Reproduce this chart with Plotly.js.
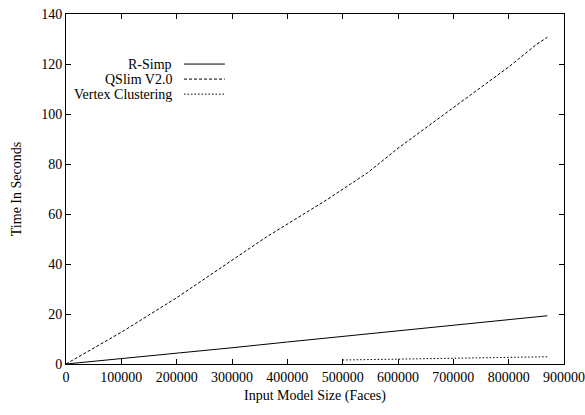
<!DOCTYPE html>
<html>
<head>
<meta charset="utf-8">
<script src="https://cdn.plot.ly/plotly-3.0.1.min.js"></script>
<style>html,body{margin:0;padding:0;background:#fff;}#chart{width:585px;height:415px;}</style>
</head>
<body>
<div id="chart"></div>
<script>
// Data
const rsimpX = [0, 100000, 200000, 300000, 400000, 500000, 600000, 700000, 800000, 870000];
const rsimpY = [0, 2.1, 4.3, 6.5, 8.8, 11.0, 13.2, 15.4, 17.6, 19.3];

const qslimX = [0, 100000, 200000, 250000, 300000, 360000, 470000, 545000, 600000, 700000, 750000, 800000, 850000, 870000];
const qslimY = [0, 12.7, 26.5, 34.0, 41.5, 50.5, 65.5, 76.5, 86.3, 102.5, 110.5, 118.8, 127.8, 130.7];

const vcX = [500000, 600000, 700000, 800000, 870000];
const vcY = [1.6, 1.9, 2.2, 2.5, 2.9];

const seriesNames = ["R-Simp", "QSlim V2.0", "Vertex Clustering"];
const seriesDash = ["solid", "3px,2px", "1.5px,2px"];

const xTicks = [0, 100000, 200000, 300000, 400000, 500000, 600000, 700000, 800000, 900000];
const yTicks = [0, 20, 40, 60, 80, 100, 120, 140];

const FONT = "Liberation Serif, Times New Roman, serif";
const FS = 14;

const traces = [
  {x: rsimpX, y: rsimpY},
  {x: qslimX, y: qslimY},
  {x: vcX, y: vcY}
].map((t, i) => ({
  x: t.x, y: t.y, type: "scatter", mode: "lines", name: seriesNames[i],
  line: {color: "#000", width: 1, dash: seriesDash[i]},
  hoverinfo: "skip", showlegend: false
}));

// Custom legend (text right-aligned, sample line on the right)
const legendY = [0.857, 0.814, 0.771];
const annotations = seriesNames.map((n, i) => ({
  xref: "paper", yref: "paper", x: 0.217, y: legendY[i],
  xanchor: "right", yanchor: "middle", text: n, showarrow: false,
  font: {family: FONT, size: FS, color: "#000"}
}));
const shapes = seriesNames.map((n, i) => ({
  type: "line", xref: "paper", yref: "paper",
  x0: 0.237, x1: 0.319, y0: legendY[i], y1: legendY[i],
  line: {color: "#000", width: 1, dash: seriesDash[i]}
}));

const axisCommon = {
  showgrid: false, zeroline: false, showline: true, linecolor: "#000", linewidth: 1,
  mirror: "ticks", ticks: "inside", ticklen: 5, tickcolor: "#000", tickwidth: 1,
  tickfont: {family: FONT, size: FS, color: "#000"}
};

const layout = {
  width: 585, height: 415,
  margin: {l: 66, r: 21, t: 14, b: 51},
  paper_bgcolor: "#fff", plot_bgcolor: "#fff",
  showlegend: false,
  xaxis: Object.assign({}, axisCommon, {
    range: [0, 900000], tickvals: xTicks, ticktext: xTicks.map(String),
    title: {text: "Input Model Size (Faces)", font: {family: FONT, size: FS, color: "#000"}, standoff: 6}
  }),
  yaxis: Object.assign({}, axisCommon, {
    range: [0, 140], tickvals: yTicks, ticktext: yTicks.map(String),
    title: {text: "Time In Seconds", font: {family: FONT, size: FS, color: "#000"}, standoff: 16}
  }),
  annotations: annotations,
  shapes: shapes
};

Plotly.newPlot("chart", traces, layout, {staticPlot: true, displayModeBar: false});
</script>
</body>
</html>
